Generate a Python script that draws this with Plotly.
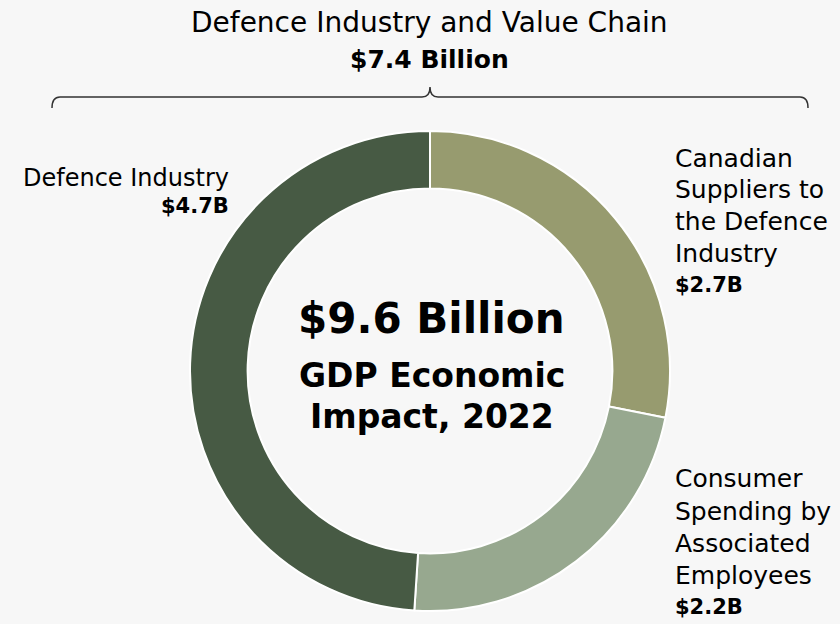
import plotly.graph_objects as go

# Data
segments = ["Canadian Suppliers to the Defence Industry",
            "Consumer Spending by Associated Employees",
            "Defence Industry"]
values_b = [2.7, 2.2, 4.7]
colors = ["#979b6f", "#97a88f", "#475a44"]
total_b = 9.6
value_chain_b = 7.4

BG = "#f7f7f7"
REG = "DejaVu Sans"
BOLD = "DejaVu Sans"

fig = go.Figure()
fig.add_trace(go.Pie(
    labels=segments, values=values_b, sort=False, direction="clockwise",
    rotation=0, hole=0.76,
    marker=dict(colors=colors, line=dict(color="white", width=2)),
    textinfo="none", hoverinfo="label+value", showlegend=False,
    domain=dict(x=[190/840, 670/840], y=[1-611/624, 1-131/624]),
))

ann = []
def add(text, x, y, size, bold=False, xanchor="center", align="center"):
    t = f"<b>{text}</b>" if bold else text
    ann.append(dict(text=t, x=x, y=y, xref="paper", yref="paper",
                    xanchor=xanchor, yanchor="middle", align=align,
                    showarrow=False,
                    font=dict(family=BOLD if bold else REG, size=size, color="#000")))

def py(ypix):
    return 1 - ypix/624

# Title
add("Defence Industry and Value Chain", 430/840, py(23), 28)
add(f"${value_chain_b} Billion", 430/840, py(59), 25, bold=True)

# Center
add(f"${total_b} Billion", 432/840, py(318), 42, bold=True)
add("GDP Economic", 432/840, py(375), 33, bold=True)
add("Impact, 2022", 432/840, py(416), 33, bold=True)

# Left label (Defence Industry)
add(segments[2], 231/840, py(178), 24, xanchor="right", align="right")
add(f"${values_b[2]}B", 231/840, py(206), 21, bold=True, xanchor="right", align="right")

# Right top label
lines1 = ["Canadian", "Suppliers to", "the Defence", "Industry"]
ys1 = [158, 189, 221, 253]
for t, yy in zip(lines1, ys1):
    add(t, 673/840, py(yy), 25, xanchor="left", align="left")
add(f"${values_b[0]}B", 673/840, py(285), 21, bold=True, xanchor="left", align="left")

# Right bottom label
lines2 = ["Consumer", "Spending by", "Associated", "Employees"]
ys2 = [478, 511, 543, 575]
for t, yy in zip(lines2, ys2):
    add(t, 673/840, py(yy), 25, xanchor="left", align="left")
add(f"${values_b[1]}B", 673/840, py(607), 21, bold=True, xanchor="left", align="left")

# Bracket
bracket = "M 52 108 Q 52 97 60 97 L 422 97 Q 430 97 430 87 Q 430 97 438 97 L 800 97 Q 808 97 808 108"
fig.update_layout(
    width=840, height=624, margin=dict(l=0, r=0, t=0, b=0),
    paper_bgcolor=BG, plot_bgcolor=BG,
    annotations=ann,
    xaxis=dict(visible=False, range=[0, 840], fixedrange=True),
    yaxis=dict(visible=False, range=[624, 0], fixedrange=True),
    shapes=[dict(type="path", path=bracket, xref="x", yref="y",
                 line=dict(color="#333333", width=1.5))],
)
fig.write_html("out.html", config={"displayModeBar": False},
               post_script="document.body.style.margin='0';document.body.style.overflow='hidden';document.body.style.background='#f7f7f7';")
